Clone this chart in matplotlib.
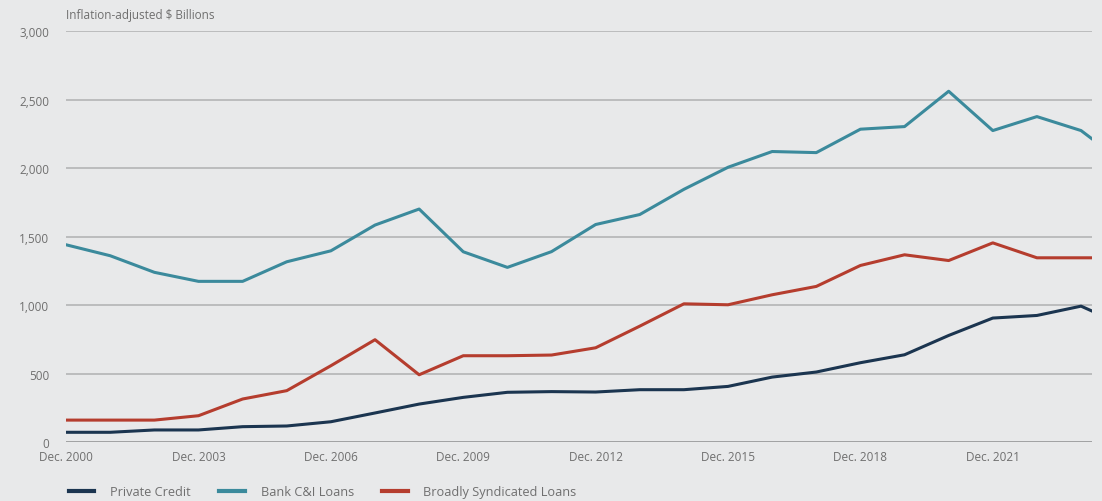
import matplotlib.pyplot as plt
import numpy as np

plt.rcParams['font.family'] = ['Open Sans', 'DejaVu Sans']

# Data (inflation-adjusted $ billions), December each year + Mar. 2024
years = [2000 + i for i in range(24)]
dates = [y + 11 / 12 for y in years] + [2024 + 2 / 12]

private_credit = [71, 71, 88, 88, 112, 117, 148, 212, 277, 326, 363, 368, 365, 382, 382,
                  406, 474, 511, 579, 637, 778, 905, 924, 992, 956]
bank_ci = [1440, 1360, 1239, 1173, 1173, 1316, 1396, 1584, 1701, 1389, 1275, 1390, 1588, 1661,
           1845, 2006, 2121, 2113, 2284, 2303, 2561, 2274, 2376, 2274, 2213]
bsl = [160, 160, 160, 192, 314, 375, 557, 747, 491, 630, 630, 635, 688, 846, 1009,
       1002, 1075, 1136, 1289, 1367, 1325, 1454, 1345, 1345, 1345]

tick_years = [2000, 2003, 2006, 2009, 2012, 2015, 2018, 2021]
tick_labels = ['Dec. %d' % y for y in tick_years]
y_ticks = [0, 500, 1000, 1500, 2000, 2500, 3000]

bg = '#e8e9ea'
fig = plt.figure(figsize=(11.02, 5.02), dpi=100, facecolor=bg)
ax = fig.add_axes([0.06, 0.1175, 0.931, 0.8185], facecolor=bg)

ax.plot(dates, private_credit, color='#1b3550', lw=2.2, label='Private Credit', zorder=3)
ax.plot(dates, bank_ci, color='#3b8a9c', lw=2.2, label='Bank C&I Loans', zorder=3)
ax.plot(dates, bsl, color='#b53d2e', lw=2.2, label='Broadly Syndicated Loans', zorder=3)

ax.set_xlim(2000 + 11 / 12, 2024 + 2 / 12)
ax.set_ylim(0, 3000)
ax.set_yticks(y_ticks)
ax.set_yticklabels(['{:,}'.format(v) for v in y_ticks])
ax.set_xticks([y + 11 / 12 for y in tick_years])
ax.set_xticklabels(tick_labels)

for v in y_ticks[1:]:
    ax.axhline(v, color='#b4b5b6', lw=1.2, zorder=1)
ax.axhline(0, color='#9a9b9c', lw=2.0, zorder=2)

for s in ax.spines.values():
    s.set_visible(False)
ax.tick_params(length=0, labelsize=8.5, colors='#6f6f6f')
ax.tick_params(axis='y', pad=12)
ax.tick_params(axis='x', pad=6)

fig.text(0.06, 0.97, 'Inflation-adjusted $ Billions', fontsize=8.5, color='#6f6f6f',
         ha='left', va='center')

leg = fig.legend(loc='lower left', bbox_to_anchor=(0.052, -0.017), ncol=3, frameon=False,
                 fontsize=9.2, handlelength=2.0, handletextpad=1.25, columnspacing=2.2)
for t in leg.get_texts():
    t.set_color('#6f6f6f')
for h in leg.get_lines():
    h.set_linewidth(3)

fig.savefig('out.png', dpi=100, facecolor=bg)
